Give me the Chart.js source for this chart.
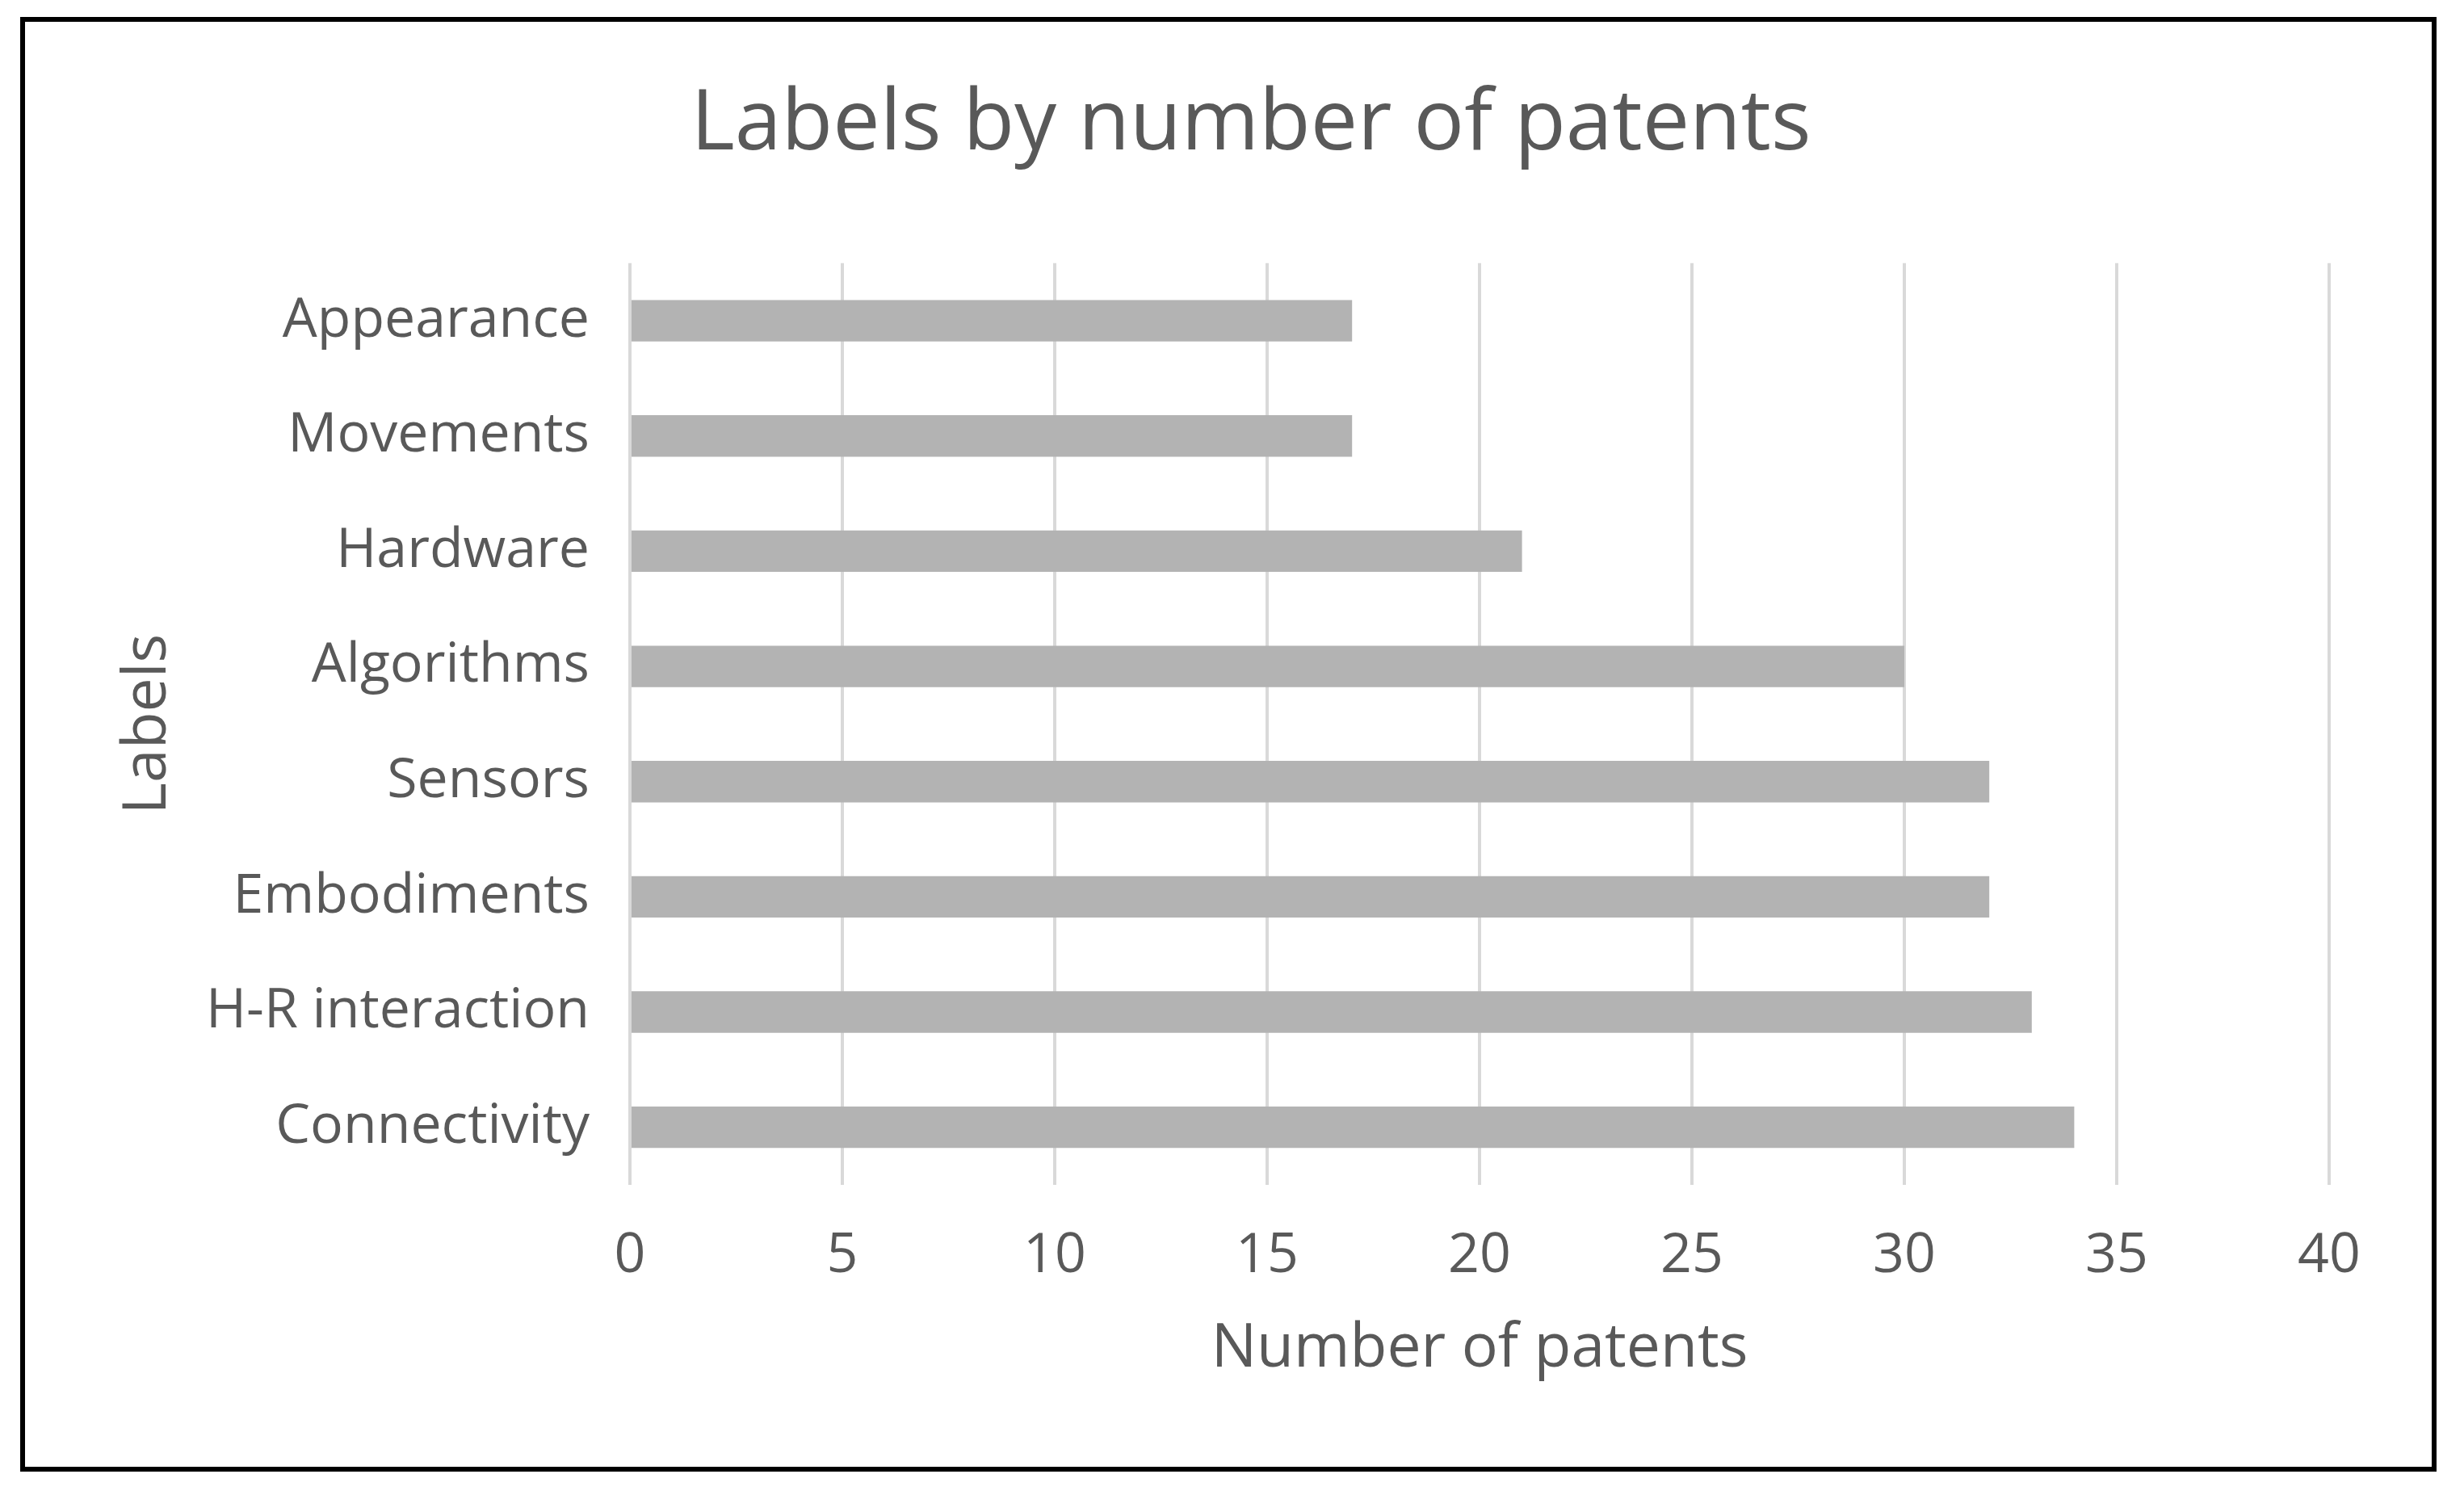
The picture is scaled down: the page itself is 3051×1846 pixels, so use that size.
<!DOCTYPE html>
<html>
<head>
<meta charset="utf-8">
<script src="https://cdn.jsdelivr.net/npm/chart.js@4"></script>
<style>
  html, body { margin: 0; padding: 0; background: #fff; }
  #frame {
    position: absolute;
    left: 25px;
    top: 21px;
    width: 2992px;
    height: 1801px;
    box-sizing: border-box;
    border: 6px solid #000;
    background: #fff;
  }
  #frame canvas { display: block; }
</style>
</head>
<body>
<div id="frame">
  <canvas id="labels-chart" width="2980" height="1789"></canvas>
</div>
<script>
'use strict';

var categories = [
    "Appearance",
    "Movements",
    "Hardware",
    "Algorithms",
    "Sensors",
    "Embodiments",
    "H-R interaction",
    "Connectivity"
];
var patentCounts = [17, 17, 21, 30, 32, 32, 33, 34];
var xTicks = [0, 5, 10, 15, 20, 25, 30, 35, 40];

var textColor = "#595959";
var fontFamily = "'Open Sans', 'Noto Sans', sans-serif";

var chartData = {
    labels: categories,
    datasets: [
        {
            data: patentCounts,
            backgroundColor: "#b3b3b3",
            borderWidth: 0,
            categoryPercentage: 1.0,
            barPercentage: 0.36
        }]
};

var chartOptions = {
    indexAxis: 'y',
    responsive: false,
    animation: false,
    layout: {
        // left padding pushes the title centre right, like the original
        padding: { left: 56, right: 0, top: 0, bottom: 0 }
    },
    plugins: {
        legend: { display: false },
        tooltip: { enabled: false },
        title: {
            display: true,
            text: "Labels by number of patents",
            color: textColor,
            font: { family: fontFamily, size: 104, weight: 'normal' },
            padding: { top: 66, bottom: 108 }
        }
    },
    scales: {
        x: {
            min: xTicks[0],
            max: xTicks[xTicks.length - 1],
            afterBuildTicks: function (scale) {
                scale.ticks = xTicks.map(function (v) { return { value: v }; });
            },
            afterFit: function (scale) {
                scale.height = 349;
            },
            grid: {
                color: "#d9d9d9",
                lineWidth: 4,
                drawTicks: false
            },
            border: { display: false },
            ticks: {
                color: textColor,
                font: { family: fontFamily, size: 68 },
                padding: 48
            },
            title: {
                display: true,
                text: "Number of patents",
                color: textColor,
                font: { family: fontFamily, size: 75 },
                padding: { top: 0, bottom: 100 }
            }
        },
        y: {
            afterFit: function (scale) {
                scale.width = 749 - 56;
            },
            grid: { display: false, drawTicks: false },
            border: { display: false },
            ticks: {
                color: textColor,
                font: { family: fontFamily, size: 68 },
                padding: 50
            },
            title: {
                display: true,
                text: "Labels",
                color: textColor,
                font: { family: fontFamily, size: 75 },
                padding: { top: 52, bottom: 0 }
            }
        },
        // empty right-hand axis, only reserves the blank strip right of 40
        yRight: {
            type: 'category',
            position: 'right',
            labels: categories,
            afterFit: function (scale) {
                scale.width = 127;
            },
            grid: { display: false, drawTicks: false },
            border: { display: false },
            ticks: { display: false }
        }
    }
};

new Chart(document.getElementById("labels-chart"), {
    type: 'bar',
    data: chartData,
    options: chartOptions
});
</script>
</body>
</html>
